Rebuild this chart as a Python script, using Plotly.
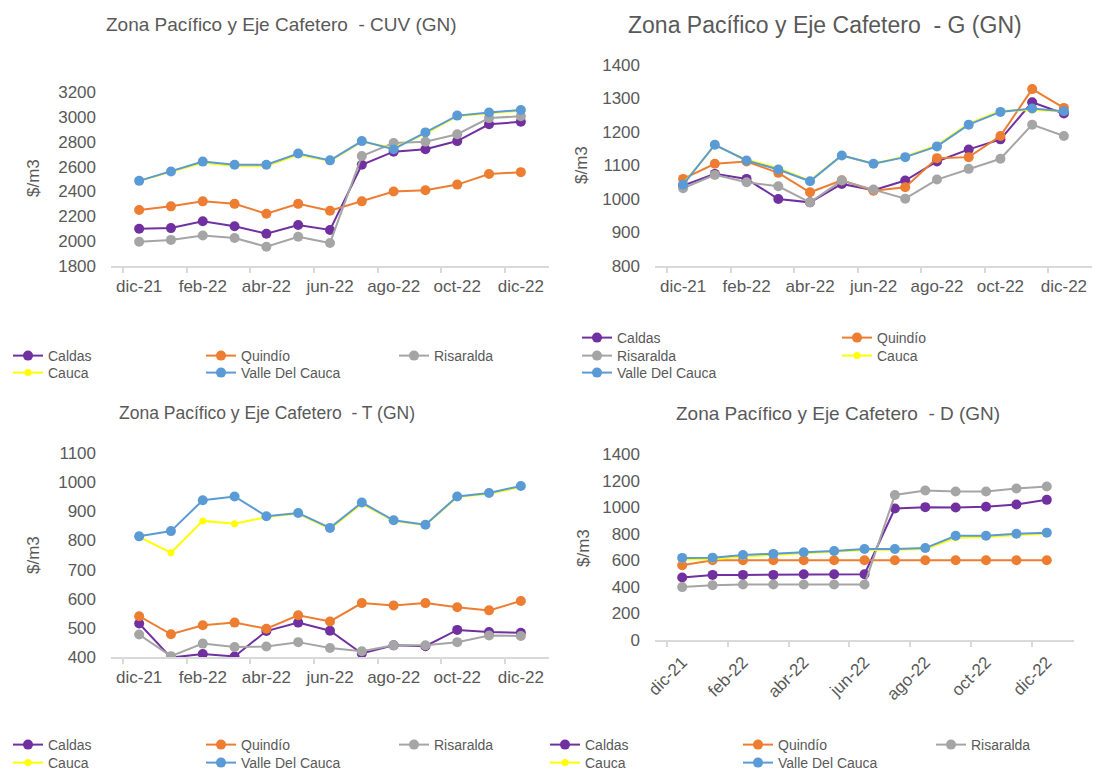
import plotly.graph_objects as go

# the page puts the plot 8 px in from the top-left corner
OFF = 8
W, H = 1104 - OFF, 772 - OFF
FONT = "Liberation Sans, Arial, sans-serif"
TXT = "#595959"
AXIS = "#d9d9d9"

months = ["dic-21", "ene-22", "feb-22", "mar-22", "abr-22", "may-22", "jun-22",
          "jul-22", "ago-22", "sep-22", "oct-22", "nov-22", "dic-22"]
names = ["Caldas", "Quindío", "Risaralda", "Cauca", "Valle Del Cauca"]
colors = ["#7030A0", "#ED7D31", "#A5A5A5", "#FFFF00", "#5B9BD5"]

# CUV ($/m3)
caldas_cuv = [2100, 2105, 2160, 2120, 2060, 2130, 2090, 2615, 2720, 2740, 2805, 2940, 2960]
quindio_cuv = [2250, 2280, 2320, 2300, 2220, 2300, 2245, 2320, 2400, 2410, 2455, 2540, 2555]
risaralda_cuv = [1995, 2010, 2045, 2025, 1955, 2035, 1985, 2685, 2790, 2800, 2860, 2990, 3005]
cauca_cuv = [2485, 2560, 2630, 2605, 2605, 2695, 2645, 2800, 2750, 2865, 3005, 3030, 3050]
valle_cuv = [2485, 2560, 2640, 2615, 2615, 2705, 2650, 2805, 2740, 2875, 3010, 3035, 3055]

# G
caldas_g = [1040, 1075, 1060, 1000, 990, 1045, 1026, 1055, 1112, 1148, 1178, 1289, 1255]
quindio_g = [1060, 1105, 1112, 1078, 1020, 1056, 1025, 1035, 1122, 1125, 1188, 1328, 1272]
risaralda_g = [1032, 1072, 1050, 1038, 990, 1055, 1028, 1001, 1058, 1090, 1120, 1222, 1188]
cauca_g = [1045, 1160, 1117, 1092, 1055, 1130, 1105, 1127, 1160, 1225, 1263, 1266, 1262]
valle_g = [1043, 1162, 1115, 1088, 1053, 1130, 1105, 1125, 1157, 1222, 1260, 1270, 1262]

# T
caldas_t = [515, 398, 410, 402, 489, 518, 490, 412, 440, 437, 493, 486, 483]
quindio_t = [540, 478, 509, 518, 497, 543, 522, 585, 577, 585, 571, 560, 592]
risaralda_t = [477, 403, 446, 434, 436, 451, 431, 420, 440, 440, 451, 474, 472]
cauca_t = [812, 758, 867, 857, 880, 892, 840, 926, 867, 852, 949, 960, 983]
valle_t = [814, 832, 938, 951, 883, 894, 843, 930, 869, 854, 951, 963, 987]

# D
caldas_d = [470, 490, 490, 490, 495, 495, 495, 990, 1000, 997, 1003, 1020, 1055]
quindio_d = [562, 600, 600, 600, 600, 600, 600, 600, 600, 600, 600, 600, 600]
risaralda_d = [398, 412, 418, 418, 418, 418, 418, 1092, 1125, 1118, 1118, 1140, 1155]
cauca_d = [605, 608, 628, 640, 652, 662, 678, 680, 685, 770, 775, 790, 800]
valle_d = [618, 620, 640, 648, 660, 670, 685, 685, 692, 785, 785, 800, 808]


def fx(x):
    # page pixel -> paper fraction
    return max(0.0, (x - OFF) / W)


def fy(y):
    return 1 - (y - OFF) / H


panels = [
    dict(title="Zona Pacífico y Eje Cafetero  - CUV (GN)", tsize=19, txy=(281, 25),
         series=[caldas_cuv, quindio_cuv, risaralda_cuv, cauca_cuv, valle_cuv],
         xpx=(111, 549), ypx=(92, 266), yrange=(1800, 3200), dtick=200,
         ylab=(33, 178), angle=0,
         rows=[((0, 1, 2), 356), ((3, 4), 373)], lx=5, colw=193),
    dict(title="Zona Pacífico y Eje Cafetero  - G (GN)", tsize=23, txy=(825, 25),
         series=[caldas_g, quindio_g, risaralda_g, cauca_g, valle_g],
         xpx=(655, 1092), ypx=(65, 266), yrange=(800, 1400), dtick=100,
         ylab=(582, 165), angle=0,
         rows=[((0, 1), 338), ((2, 3), 356), ((4,), 373)], lx=577, colw=260),
    dict(title="Zona Pacífico y Eje Cafetero  - T (GN)", tsize=17.5, txy=(267, 413),
         series=[caldas_t, quindio_t, risaralda_t, cauca_t, valle_t],
         xpx=(111, 549), ypx=(453, 657), yrange=(400, 1100), dtick=100,
         ylab=(33, 555), angle=0,
         rows=[((0, 1, 2), 745), ((3, 4), 763)], lx=5, colw=193),
    dict(title="Zona Pacífico y Eje Cafetero  - D (GN)", tsize=19, txy=(838, 413),
         series=[caldas_d, quindio_d, risaralda_d, cauca_d, valle_d],
         xpx=(655, 1074), ypx=(454, 640), yrange=(0, 1400), dtick=200,
         ylab=(583, 548), angle=-45,
         rows=[((0, 1, 2), 745), ((3, 4), 763)], lx=545, colw=193),
]

fig = go.Figure()
layout = dict(
    width=W, height=H,
    margin=dict(l=0, r=0, t=0, b=0, autoexpand=False),
    paper_bgcolor="white", plot_bgcolor="white",
    font=dict(family=FONT, color=TXT, size=17),
    annotations=[],
    showlegend=True,
)

leg_n = 0
for i, p in enumerate(panels):
    sfx = "" if i == 0 else str(i + 1)
    # one legend per row so the columns line up like the original
    row_legend = {}
    for members, ypos in p["rows"]:
        leg_n += 1
        lname = "legend" if leg_n == 1 else f"legend{leg_n}"
        for m in members:
            row_legend[m] = lname
        layout[lname] = dict(
            orientation="h", x=fx(p["lx"]), xanchor="left",
            y=fy(ypos), yanchor="middle",
            entrywidth=p["colw"] - 45, entrywidthmode="pixels",
            font=dict(family=FONT, size=14, color=TXT),
            bgcolor="rgba(0,0,0,0)", itemclick=False,
        )
    for k, vals in enumerate(p["series"]):
        fig.add_trace(go.Scatter(
            x=months, y=vals, name=names[k], mode="lines+markers",
            line=dict(color=colors[k], width=2),
            marker=dict(color=colors[k], size=7 if k == 3 else 10),
            xaxis="x" + sfx, yaxis="y" + sfx,
            legend=row_legend[k],
        ))
    layout["xaxis" + sfx] = dict(
        domain=[fx(p["xpx"][0]), fx(p["xpx"][1])],
        anchor="y" + sfx, type="category",
        tickmode="linear", tick0=0, dtick=2, tickson="boundaries",
        ticks="outside", ticklen=5, tickcolor=AXIS, tickwidth=1.5,
        showline=True, linecolor=AXIS, linewidth=1.5,
        showgrid=False, zeroline=False, tickangle=p["angle"],
        tickfont=dict(size=17, color=TXT), ticklabelstandoff=4,
    )
    layout["yaxis" + sfx] = dict(
        domain=[fy(p["ypx"][1]), fy(p["ypx"][0])],
        anchor="x" + sfx, range=list(p["yrange"]), dtick=p["dtick"],
        showgrid=False, zeroline=False, showline=False, ticks="",
        tickfont=dict(size=17, color=TXT), ticklabelstandoff=14,
    )
    layout["annotations"].append(dict(
        text=p["title"], x=fx(p["txy"][0]), y=fy(p["txy"][1]),
        xref="paper", yref="paper", showarrow=False,
        xanchor="center", yanchor="middle",
        font=dict(size=p["tsize"], color=TXT, family=FONT),
    ))
    layout["annotations"].append(dict(
        text="$/m3", x=fx(p["ylab"][0]), y=fy(p["ylab"][1]),
        xref="paper", yref="paper", showarrow=False, textangle=-90,
        xanchor="center", yanchor="middle",
        font=dict(size=17, color=TXT, family=FONT),
    ))

fig.update_layout(layout)
fig.write_html("out.html")
